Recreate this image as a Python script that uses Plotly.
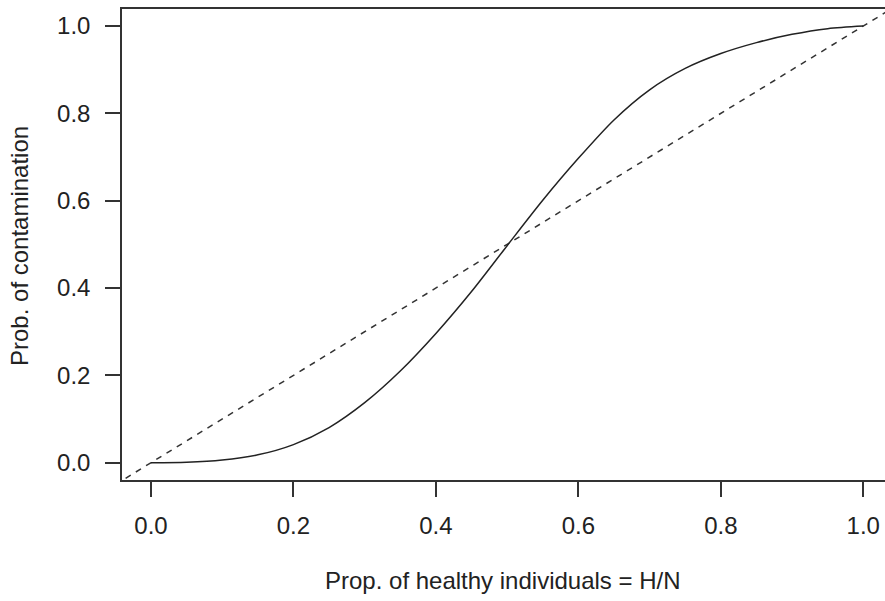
import plotly.graph_objects as go

# Proportion of healthy individuals (H/N) and probability of contamination
prop_healthy = [0.0, 0.05, 0.10, 0.15, 0.20, 0.25, 0.30, 0.35, 0.40, 0.45, 0.50,
                0.55, 0.60, 0.65, 0.70, 0.75, 0.80, 0.85, 0.90, 0.95, 1.0]
prob_contam = [0.0, 0.001, 0.006, 0.018, 0.0415, 0.0805, 0.1375, 0.210, 0.296, 0.392, 0.497,
               0.601, 0.697, 0.785, 0.854, 0.903, 0.937, 0.962, 0.981, 0.994, 1.0]

# Reference line y = x
ref_x = [-0.05, 1.05]
ref_y = [-0.05, 1.05]

x_ticks = [0.0, 0.2, 0.4, 0.6, 0.8, 1.0]
y_ticks = [0.0, 0.2, 0.4, 0.6, 0.8, 1.0]
tick_labels = ["0.0", "0.2", "0.4", "0.6", "0.8", "1.0"]

FONT = "Liberation Sans, Arial, Helvetica, sans-serif"
INK = "#222222"

fig = go.Figure()
fig.add_trace(go.Scatter(x=ref_x, y=ref_y, mode="lines",
                         line=dict(color="#333333", width=1.5, dash="6px,6px"),
                         hoverinfo="skip", showlegend=False))
fig.add_trace(go.Scatter(x=prop_healthy, y=prob_contam, mode="lines",
                         line=dict(color=INK, width=1.5, shape="spline", smoothing=0.8),
                         showlegend=False))

fig.update_layout(
    width=885, height=601,
    margin=dict(l=122, r=0, t=9, b=121),
    paper_bgcolor="white", plot_bgcolor="white",
    font=dict(family=FONT, size=24, color=INK),
    xaxis=dict(range=[-0.0407, 1.0305], tickvals=x_ticks, ticktext=tick_labels,
               showgrid=False, zeroline=False, showline=True, linecolor="#333333",
               linewidth=1.5, mirror=True, ticks="outside", ticklen=15, tickwidth=1.5,
               tickcolor="#333333", ticklabelstandoff=8, automargin=False),
    yaxis=dict(range=[-0.0396, 1.039], tickvals=y_ticks, ticktext=tick_labels,
               showgrid=False, zeroline=False, showline=True, linecolor="#333333",
               linewidth=1.5, ticks="outside", ticklen=15, tickwidth=1.5,
               tickcolor="#333333", ticklabelstandoff=10, automargin=False),
    annotations=[
        dict(text="Prop. of healthy individuals = H/N", xref="paper", yref="paper",
             x=(503 - 122) / 763, y=-(580 - 480) / 471, showarrow=False,
             xanchor="center", yanchor="middle", font=dict(size=24)),
        dict(text="Prob. of contamination", xref="paper", yref="paper",
             x=-(122 - 19) / 763, y=(480 - 246) / 471, showarrow=False, textangle=-90,
             xanchor="center", yanchor="middle", font=dict(size=24)),
    ],
)

fig.write_html("out.html", config={"displayModeBar": False},
               post_script="document.body.style.margin='0';document.body.style.overflow='hidden';")
